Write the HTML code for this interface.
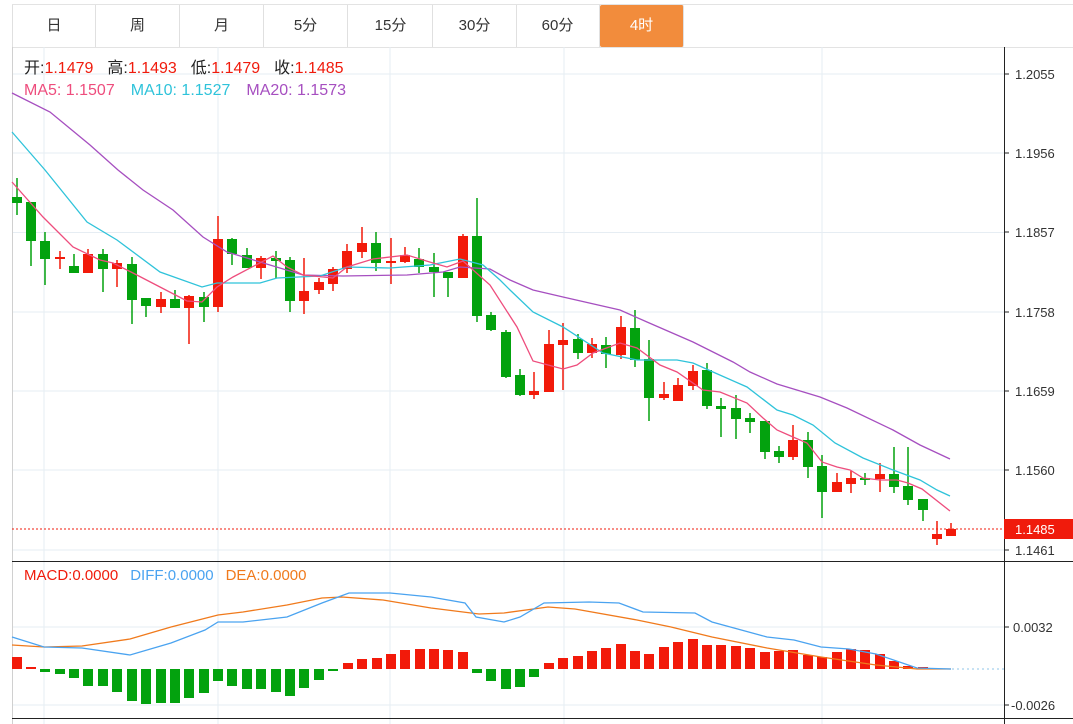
<!DOCTYPE html>
<html><head><meta charset="utf-8">
<style>
html,body{margin:0;padding:0;background:#fff;}
body{width:1073px;height:724px;overflow:hidden;position:relative;font-family:"Liberation Sans","Noto Sans CJK SC",sans-serif;}
.tabs{position:absolute;left:12px;top:4px;height:42px;width:1061px;border-top:1px solid #e3e3e3;border-bottom:1px solid #e3e3e3;}
.tab{position:absolute;top:0;height:42px;width:84px;border-right:1px solid #e0e0e0;text-align:center;line-height:42px;font-size:15px;color:#333;box-sizing:border-box;}
.tab.on{background:#f28c3c;color:#fff;border-radius:2px;}
svg{position:absolute;left:0;top:0;}
</style></head><body>
<div class="tabs">
<div class="tab" style="left:0;border-left:1px solid #e0e0e0">日</div>
<div class="tab" style="left:84px">周</div>
<div class="tab" style="left:168px">月</div>
<div class="tab" style="left:252px">5分</div>
<div class="tab" style="left:337px">15分</div>
<div class="tab" style="left:421px">30分</div>
<div class="tab" style="left:504px">60分</div>
<div class="tab on" style="left:588px">4时</div>
</div>
<svg width="1073" height="724" viewBox="0 0 1073 724" font-family="Liberation Sans, Noto Sans CJK SC, sans-serif">
<g stroke="#e6edf3" stroke-width="1">
<line x1="12" y1="74" x2="1004" y2="74"/><line x1="12" y1="153" x2="1004" y2="153"/><line x1="12" y1="232.5" x2="1004" y2="232.5"/><line x1="12" y1="312" x2="1004" y2="312"/><line x1="12" y1="391" x2="1004" y2="391"/><line x1="12" y1="470" x2="1004" y2="470"/><line x1="12" y1="550" x2="1004" y2="550"/>
<line x1="12" y1="627" x2="1004" y2="627"/><line x1="12" y1="705" x2="1004" y2="705"/>
<line x1="44" y1="47" x2="44" y2="724"/><line x1="218" y1="47" x2="218" y2="724"/><line x1="390" y1="47" x2="390" y2="724"/><line x1="564" y1="47" x2="564" y2="724"/><line x1="822" y1="47" x2="822" y2="724"/>
</g>
<line x1="12.5" y1="47" x2="12.5" y2="724" stroke="#d0d0d0"/>
<line x1="1004.5" y1="47" x2="1004.5" y2="724" stroke="#222"/>
<line x1="12" y1="561.5" x2="1073" y2="561.5" stroke="#222"/>
<line x1="12" y1="718.5" x2="1073" y2="718.5" stroke="#222"/>
<g stroke="#222"><line x1="1004" y1="74" x2="1009" y2="74"/><line x1="1004" y1="153" x2="1009" y2="153"/><line x1="1004" y1="232" x2="1009" y2="232"/><line x1="1004" y1="312" x2="1009" y2="312"/><line x1="1004" y1="391" x2="1009" y2="391"/><line x1="1004" y1="470" x2="1009" y2="470"/><line x1="1004" y1="550" x2="1009" y2="550"/><line x1="1004" y1="627" x2="1009" y2="627"/><line x1="1004" y1="705" x2="1009" y2="705"/></g>
<g font-size="13" fill="#333">
<text x="1015" y="79">1.2055</text><text x="1015" y="158">1.1956</text><text x="1015" y="237">1.1857</text><text x="1015" y="317">1.1758</text><text x="1015" y="396">1.1659</text><text x="1015" y="475">1.1560</text><text x="1015" y="555">1.1461</text>
<text x="1013" y="632">0.0032</text><text x="1011" y="710">-0.0026</text>
</g>
<line x1="12" y1="529" x2="1004" y2="529" stroke="#f01b0c" stroke-dasharray="2,2"/>
<rect x="1004" y="519" width="69" height="20" fill="#f01b0c"/>
<text x="1015" y="534" font-size="13" fill="#fff">1.1485</text>
<g font-size="16">
<text x="24" y="73"><tspan fill="#222">开:</tspan><tspan fill="#f01b0c">1.1479</tspan><tspan fill="#222" dx="14">高:</tspan><tspan fill="#f01b0c">1.1493</tspan><tspan fill="#222" dx="14">低:</tspan><tspan fill="#f01b0c">1.1479</tspan><tspan fill="#222" dx="14">收:</tspan><tspan fill="#f01b0c">1.1485</tspan></text>
<text x="24" y="95"><tspan fill="#ee4d7d">MA5:  1.1507</tspan><tspan fill="#2fc3da" dx="16">MA10:  1.1527</tspan><tspan fill="#a64fc0" dx="16">MA20:  1.1573</tspan></text>
</g>
<g font-size="15">
<text x="24" y="580"><tspan fill="#f01b0c">MACD:0.0000</tspan><tspan fill="#4aa3f0" dx="12">DIFF:0.0000</tspan><tspan fill="#f07a1c" dx="12">DEA:0.0000</tspan></text>
</g>
<g fill="#03a20e" stroke="#03a20e">
<path d="M17 178V215M31 202V266M45 232V285M74 254V273M103 249V292M132 257V324M146 298V317M175 290V308M204 292V322M232 238V265M247 248V268M276 251V278M290 257V312M376 232V271M419 248V273M434 253V297M448 272V297M477 198V322M491 312V331M506 330V378M520 369V396M578 334V359M606 337V368M635 310V367M649 340V421M707 363V409M721 398V437M736 395V439M750 413V433M765 421V459M779 446V463M808 432V478M822 455V518M865 473V485M894 447V493M908 447V505M923 499V521" fill="none" stroke-width="1.5"/>
<g stroke="none">
<rect x="12" y="197" width="10" height="6"/><rect x="26" y="202" width="10" height="39"/><rect x="40" y="241" width="10" height="18"/><rect x="69" y="266" width="10" height="7"/><rect x="98" y="254" width="10" height="15"/><rect x="127" y="264" width="10" height="36"/><rect x="141" y="298" width="10" height="8"/><rect x="170" y="299" width="10" height="9"/><rect x="199" y="297" width="10" height="10"/><rect x="227" y="239" width="10" height="15"/><rect x="242" y="255" width="10" height="13"/><rect x="271" y="258" width="10" height="3"/><rect x="285" y="260" width="10" height="41"/><rect x="371" y="243" width="10" height="20"/><rect x="414" y="259" width="10" height="8"/><rect x="429" y="267" width="10" height="5"/><rect x="443" y="272" width="10" height="6"/><rect x="472" y="236" width="10" height="80"/><rect x="486" y="315" width="10" height="15"/><rect x="501" y="332" width="10" height="45"/><rect x="515" y="375" width="10" height="20"/><rect x="573" y="339" width="10" height="14"/><rect x="601" y="345" width="10" height="9"/><rect x="630" y="328" width="10" height="32"/><rect x="644" y="359" width="10" height="39"/><rect x="702" y="370" width="10" height="36"/><rect x="716" y="406" width="10" height="3"/><rect x="731" y="408" width="10" height="11"/><rect x="745" y="418" width="10" height="4"/><rect x="760" y="421" width="10" height="31"/><rect x="774" y="451" width="10" height="6"/><rect x="803" y="440" width="10" height="27"/><rect x="817" y="466" width="10" height="26"/><rect x="860" y="478" width="10" height="2"/><rect x="889" y="474" width="10" height="13"/><rect x="903" y="486" width="10" height="14"/><rect x="918" y="499" width="10" height="11"/>
</g></g>
<g fill="#f21a0a">
<path d="M60 251V269M88 249V273M117 260V287M161 292V313M189 295V344M218 216V312M261 256V279M304 258V314M319 278V294M333 267V291M347 244V273M362 227V258M391 238V284M405 247V263M463 234V278M534 372V399M549 330V392M563 323V390M592 338V358M621 316V359M664 382V400M678 378V401M693 365V390M793 425V460M837 473V492M851 471V493M880 463V492M937 521V545M951 523V536" fill="none" stroke="#f21a0a" stroke-width="1.5"/>
<rect x="55" y="257" width="10" height="2"/><rect x="83" y="254" width="10" height="19"/><rect x="112" y="263" width="10" height="6"/><rect x="156" y="299" width="10" height="8"/><rect x="184" y="296" width="10" height="12"/><rect x="213" y="239" width="10" height="68"/><rect x="256" y="258" width="10" height="10"/><rect x="299" y="291" width="10" height="10"/><rect x="314" y="282" width="10" height="8"/><rect x="328" y="269" width="10" height="15"/><rect x="342" y="251" width="10" height="18"/><rect x="357" y="243" width="10" height="9"/><rect x="386" y="261" width="10" height="2"/><rect x="400" y="255" width="10" height="7"/><rect x="458" y="236" width="10" height="42"/><rect x="529" y="391" width="10" height="4"/><rect x="544" y="344" width="10" height="48"/><rect x="558" y="340" width="10" height="5"/><rect x="587" y="344" width="10" height="9"/><rect x="616" y="327" width="10" height="28"/><rect x="659" y="394" width="10" height="4"/><rect x="673" y="385" width="10" height="16"/><rect x="688" y="371" width="10" height="15"/><rect x="788" y="440" width="10" height="17"/><rect x="832" y="482" width="10" height="10"/><rect x="846" y="478" width="10" height="6"/><rect x="875" y="474" width="10" height="5"/><rect x="932" y="534" width="10" height="5"/><rect x="946" y="529" width="10" height="7"/>
</g>
<g fill="none" stroke-width="1.3">
<polyline stroke="#a64fc0" points="12,93 50,112 90,145 118,170 143,190 173,210 203,237 227,252 260,262 303,275 343,276 407,275 443,272 460,267 490,269 510,280 533,290 563,297 620,310 647,322 693,342 733,362 750,372 777,384 820,397 847,408 893,430 920,445 950,459"/>
<polyline stroke="#2fc3da" points="12,132 45,170 87,222 117,240 160,272 202,287 217,283 260,283 277,278 320,276 347,267 390,268 430,265 460,259 483,265 500,280 510,290 533,312 563,327 603,353 637,360 677,360 693,363 713,372 747,387 777,410 793,415 813,425 835,443 863,458 893,470 920,480 937,490 950,496"/>
<polyline stroke="#ee4d7d" points="12,182 43,217 73,247 100,260 113,263 133,273 160,287 187,301 202,302 217,287 233,277 273,256 287,267 303,275 333,278 347,267 373,259 407,255 433,263 447,267 463,261 490,285 517,327 533,361 563,369 577,365 593,353 620,343 637,348 660,365 677,372 703,390 720,392 747,403 763,418 777,430 793,437 807,443 822,462 837,467 850,470 863,478 880,480 897,480 908,483 922,489 950,511"/>
</g>
<g fill="#f21a0a">
<rect x="12" y="657" width="10" height="12"/><rect x="26" y="667" width="10" height="2"/>
<rect x="343" y="663" width="10" height="6"/><rect x="357" y="659" width="10" height="10"/><rect x="372" y="658" width="10" height="11"/><rect x="386" y="654" width="10" height="15"/><rect x="400" y="650" width="10" height="19"/><rect x="415" y="649" width="10" height="20"/><rect x="429" y="649" width="10" height="20"/><rect x="443" y="650" width="10" height="19"/><rect x="458" y="652" width="10" height="17"/>
<rect x="544" y="663" width="10" height="6"/><rect x="558" y="658" width="10" height="11"/><rect x="573" y="656" width="10" height="13"/><rect x="587" y="651" width="10" height="18"/><rect x="601" y="648" width="10" height="21"/><rect x="616" y="644" width="10" height="25"/><rect x="630" y="651" width="10" height="18"/><rect x="644" y="654" width="10" height="15"/><rect x="659" y="647" width="10" height="22"/><rect x="673" y="642" width="10" height="27"/><rect x="688" y="639" width="10" height="30"/><rect x="702" y="645" width="10" height="24"/><rect x="716" y="645" width="10" height="24"/><rect x="731" y="646" width="10" height="23"/><rect x="745" y="648" width="10" height="21"/><rect x="760" y="652" width="10" height="17"/><rect x="774" y="651" width="10" height="18"/><rect x="788" y="650" width="10" height="19"/><rect x="803" y="655" width="10" height="14"/><rect x="817" y="657" width="10" height="12"/><rect x="832" y="652" width="10" height="17"/><rect x="846" y="649" width="10" height="20"/><rect x="860" y="650" width="10" height="19"/><rect x="875" y="654" width="10" height="15"/><rect x="889" y="661" width="10" height="8"/><rect x="903" y="666" width="10" height="3"/><rect x="918" y="667" width="10" height="2"/>
</g>
<g fill="#03a20e">
<rect x="40" y="669" width="10" height="3"/><rect x="55" y="669" width="10" height="5"/><rect x="69" y="669" width="10" height="9"/><rect x="83" y="669" width="10" height="17"/><rect x="98" y="669" width="10" height="17"/><rect x="112" y="669" width="10" height="23"/><rect x="127" y="669" width="10" height="32"/><rect x="141" y="669" width="10" height="35"/><rect x="156" y="669" width="10" height="34"/><rect x="170" y="669" width="10" height="34"/><rect x="184" y="669" width="10" height="29"/><rect x="199" y="669" width="10" height="24"/><rect x="213" y="669" width="10" height="12"/><rect x="227" y="669" width="10" height="17"/><rect x="242" y="669" width="10" height="20"/><rect x="256" y="669" width="10" height="20"/><rect x="271" y="669" width="10" height="23"/><rect x="285" y="669" width="10" height="27"/><rect x="299" y="669" width="10" height="19"/><rect x="314" y="669" width="10" height="11"/><rect x="328" y="669" width="10" height="2"/>
<rect x="472" y="669" width="10" height="4"/><rect x="486" y="669" width="10" height="12"/><rect x="501" y="669" width="10" height="20"/><rect x="515" y="669" width="10" height="18"/><rect x="529" y="669" width="10" height="8"/>
</g>
<line x1="932" y1="669" x2="1004" y2="669" stroke="#8fc6ea" stroke-dasharray="2,3"/>
<g fill="none" stroke-width="1.3">
<polyline stroke="#f07a1c" points="12,645 44,647 82,646 130,639 171,627 218,615 243,612 287,605 322,598 342,597 383,600 431,608 479,614 504,613 548,607 575,609 637,620 671,627 712,637 767,648 821,657 876,665 917,669 951,669"/>
<polyline stroke="#4aa3f0" points="12,637 44,647 82,648 130,655 171,643 205,630 218,622 243,622 287,617 322,603 349,593 390,593 431,597 465,603 476,617 504,622 520,617 544,603 589,602 619,603 643,612 695,613 712,622 767,637 794,640 821,647 849,649 876,654 917,668 951,669"/>
</g>
</svg>
</body></html>
